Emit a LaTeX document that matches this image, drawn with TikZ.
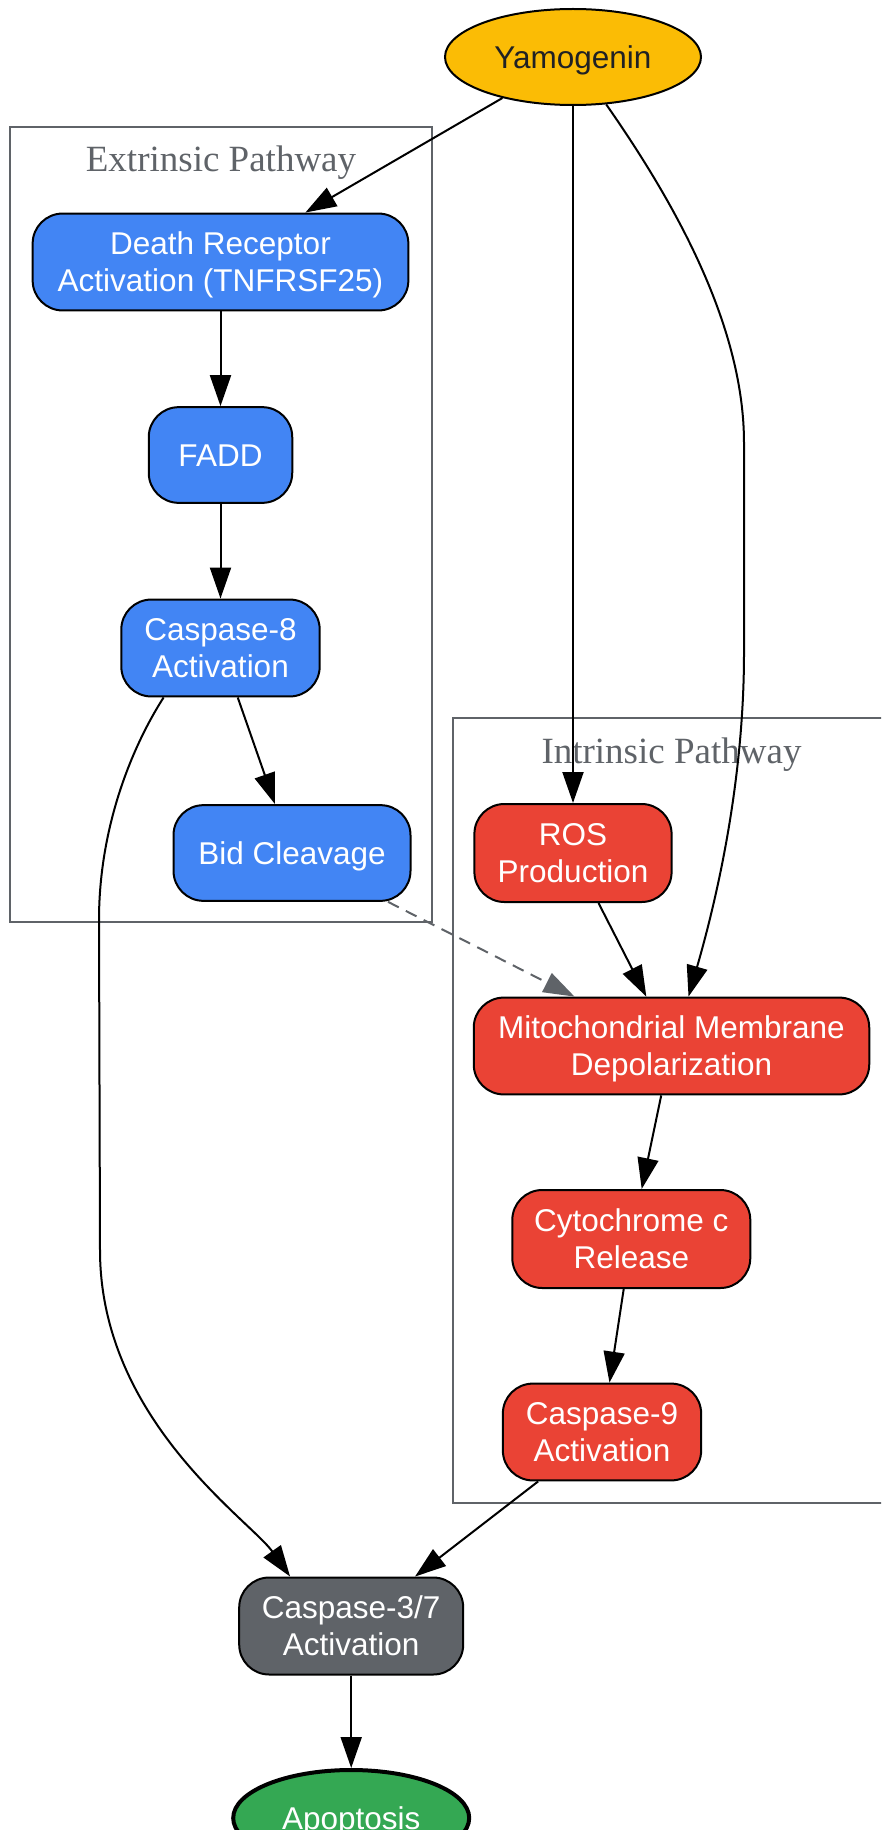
\documentclass[tikz,border=0pt]{standalone}
\usepackage{fontspec}
\setmainfont{Liberation Sans}
\newfontfamily\clusterfont{Liberation Serif}
\usepackage{xcolor}
\usepackage{tikz}
\usetikzlibrary{shapes, arrows.meta}

\definecolor{yamoyellow}{HTML}{FBBC05}
\definecolor{extblue}{HTML}{4285F4}
\definecolor{intred}{HTML}{EA4335}
\definecolor{casgray}{HTML}{5F6368}
\definecolor{apogreen}{HTML}{34A853}
\definecolor{txtdark}{HTML}{202124}

% fixed ascent/descent for node texts
\newcommand{\ns}{\rule[-6.6pt]{0pt}{35.7pt}}

\tikzset{
  pbox/.style={draw=black, line width=2pt, rounded corners=30pt, inner sep=0pt, align=center, text=white, font=\fontsize{31.5}{37}\selectfont},
  oval/.style={ellipse, draw=black, line width=2pt, inner sep=0pt, font=\fontsize{31.5}{37}\selectfont},
  conn/.style={line width=2pt, -{Triangle[length=31pt,width=21pt]}},
  cluster/.style={draw=casgray, line width=2pt},
  clusterlabel/.style={text=casgray, anchor=base, font=\clusterfont\fontsize{37}{44}\selectfont},
}

\begin{document}
\begin{tikzpicture}[x=1pt,y=1pt,yscale=-1,xscale=1]
\clip (0,0) rectangle (881,1830);

%Shape: Rectangle [extrinsic cluster]
\draw [cluster] (9.5,126.7) rectangle (431.5,921.7);
%Shape: Rectangle [intrinsic cluster]
\draw [cluster] (452.8,717.6) rectangle (905,1502.5);

% Text Node
\draw (221,172) node [clusterlabel] {Extrinsic Pathway};
% Text Node
\draw (671.5,763) node [clusterlabel] {Intrinsic Pathway};

%Shape: Ellipse [yamogenin]
\draw (573,57) node [oval, fill=yamoyellow, text=txtdark, minimum width=256pt, minimum height=96pt] (yam) {\ns Yamogenin\ns};

%Shape: Rounded Rectangle [extrinsic]
\draw (220.5,262) node [pbox, fill=extblue, minimum width=375.7pt, minimum height=96.9pt] (drec) {\ns Death Receptor\\Activation (TNFRSF25)\ns};
\draw (220.5,455) node [pbox, fill=extblue, minimum width=143.5pt, minimum height=95.7pt] (fadd) {\ns FADD\ns};
\draw (220.5,648) node [pbox, fill=extblue, minimum width=198.4pt, minimum height=96.9pt] (cs8) {\ns Caspase-8\\Activation\ns};
\draw (292,853) node [pbox, fill=extblue, minimum width=237pt, minimum height=95.7pt] (bid) {\ns Bid Cleavage\ns};

%Shape: Rounded Rectangle [intrinsic]
\draw (573,853) node [pbox, fill=intred, minimum width=197.2pt, minimum height=98pt] (ros) {\ns ROS\\Production\ns};
\draw (671.5,1046) node [pbox, fill=intred, minimum width=395.5pt, minimum height=96.8pt] (mito) {\ns Mitochondrial Membrane\\Depolarization\ns};
\draw (631.3,1239) node [pbox, fill=intred, minimum width=238pt, minimum height=98pt] (cyto) {\ns Cytochrome c\\Release\ns};
\draw (602,1432) node [pbox, fill=intred, minimum width=198.3pt, minimum height=96.8pt] (cs9) {\ns Caspase-9\\Activation\ns};

%Shape: Rounded Rectangle [execution]
\draw (351.2,1626) node [pbox, fill=casgray, minimum width=224pt, minimum height=97pt] (cs37) {\ns Caspase-3/7\\Activation\ns};
%Shape: Ellipse [outcome]
\draw (351.2,1818) node [oval, line width=4pt, fill=apogreen, text=white, minimum width=236pt, minimum height=96pt] (apo) {\ns Apoptosis\ns};

%Straight Lines
\draw [conn] (yam) -- (drec);
\draw [conn] (yam) -- (ros);
\draw [conn] (drec) -- (fadd);
\draw [conn] (fadd) -- (cs8);
\draw [conn] (cs8) -- (bid);
\draw [conn, color=casgray, dash pattern=on 12pt off 8pt] (bid) -- (mito);
\draw [conn] (ros) -- (mito);
\draw [conn] (mito) -- (cyto);
\draw [conn] (cyto) -- (cs9);
\draw [conn] (cs9) -- (cs37);
\draw [conn] (cs37) -- (apo);

%Curve Lines
\draw [conn] (yam.-55) .. controls (680,210) and (744,330) .. (744,443) -- (744,653) .. controls (744,760) and (725,870) .. (mito.71);
%Curve Lines
\draw [conn] (cs8.-139) .. controls (130,750) and (99,830) .. (99,920) -- (100,1250) .. controls (100,1420) and (250,1520) .. (cs37.141);

\end{tikzpicture}
\end{document}
